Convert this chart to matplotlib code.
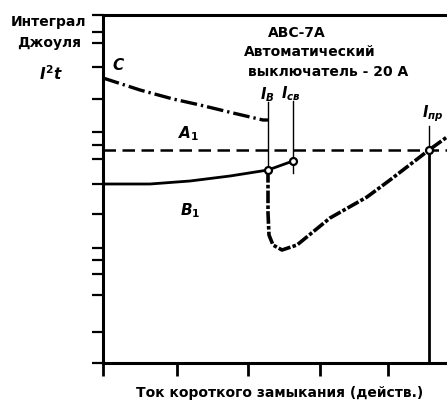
import matplotlib
matplotlib.use("Agg")
import matplotlib.pyplot as plt

plt.rcParams["font.family"] = ["DejaVu Sans"]
plt.rcParams["font.weight"] = "bold"
plt.rcParams["mathtext.fontset"] = "custom"
plt.rcParams["mathtext.rm"] = "DejaVu Sans:bold"
plt.rcParams["mathtext.it"] = "DejaVu Sans:italic:bold"
plt.rcParams["mathtext.bf"] = "DejaVu Sans:bold"

# schematic units (no numeric scale on the original chart)
x_ticks = [0, 74, 145, 217, 285]
y_ticks = [0, 31, 68, 89, 103, 115, 149, 179, 204, 218, 231, 264, 296, 320, 331, 348]

level_a1 = 213  # horizontal dashed line A1

# curve C (dash-dot, falling)
c_x = [0, 37, 70, 97, 130, 160, 165]
c_y = [285, 273, 264, 258, 250, 243, 243]

# curve B1 (solid)
b_x = [0, 47, 87, 127, 165, 190]
b_y = [179, 179, 182, 187, 193, 202]

# let-through curve (from I_B downward, then rising)
l_x = [165, 165, 166, 170, 179, 194, 227, 264, 287, 326, 344]
l_y = [193, 150, 128, 118, 113, 118, 145, 166, 183, 213, 226]

# characteristic currents
i_b = 165
i_sv = 190
i_pr = 326
i_sv_y = 202

fig = plt.figure(figsize=(4.47, 4.01), dpi=100)
ax = fig.add_axes([103 / 447, 38 / 401, 344 / 447, 348 / 401])
ax.set_xlim(0, 344)
ax.set_ylim(0, 348)

for s in ["left", "top", "bottom"]:
    ax.spines[s].set_linewidth(2.2)
ax.spines["right"].set_visible(False)

ax.set_xticks(x_ticks)
ax.set_yticks(y_ticks)
ax.set_xticklabels([])
ax.set_yticklabels([])
ax.tick_params(axis="x", direction="out", length=9.5, width=2.0)
ax.tick_params(axis="y", direction="out", length=8, width=1.6)

# A1 dashed level
ax.plot([0, 344], [level_a1, level_a1], color="black", lw=1.8,
        linestyle=(0, (5.0, 2.6)))

# C curve
ax.plot(c_x, c_y, color="black", lw=2.4, linestyle=(0, (5.0, 1.2, 0.7, 1.2)),
        solid_capstyle="butt")

# B1 curve
ax.plot(b_x, b_y, color="black", lw=2.0)

# let-through curve
ax.plot(l_x, l_y, color="black", lw=2.6, linestyle=(0, (3.5, 0.6, 1.0, 0.6)))

# vertical markers
ax.plot([i_b, i_b], [193, 261], color="black", lw=1.0)
ax.plot([i_sv, i_sv], [190, 262], color="black", lw=1.0)
ax.plot([i_pr, i_pr], [213, 237], color="black", lw=1.0)
ax.plot([i_pr, i_pr], [0, 213], color="black", lw=2.0)

# points
ax.plot([i_b, i_sv, i_pr], [193, i_sv_y, level_a1], "o", ms=5.0,
        mfc="white", mec="black", mew=1.6, zorder=5)

# labels
ax.text(16, 298, "$C$", fontsize=11, ha="center", va="center")
ax.text(86, 229, "$A_1$", fontsize=11, ha="center", va="center")
ax.text(87, 152, "$B_1$", fontsize=11, ha="center", va="center")
ax.text(i_b - 1, 259, "$I_{В}$", fontsize=10.5, ha="center", va="bottom")
ax.text(i_sv - 2, 260, "$I_{св}$", fontsize=10.5, ha="center", va="bottom")
ax.text(i_pr + 4, 239, "$I_{пр}$", fontsize=10.5, ha="center", va="bottom")

ax.text(194, 330, "АВС-7А", fontsize=10, ha="center", va="center", clip_on=False)
ax.text(207, 311, "Автоматический", fontsize=10, ha="center", va="center", clip_on=False)
ax.text(225, 291, "выключатель - 20 А", fontsize=10, ha="center", va="center", clip_on=False)

ax.text(-54, 341, "Интеграл", fontsize=10, ha="center", va="center", clip_on=False)
ax.text(-54, 320, "Джоуля", fontsize=10, ha="center", va="center", clip_on=False)
ax.text(-52, 289, "$I^2t$", fontsize=11, ha="center", va="center", clip_on=False)

ax.text(177, -30, "Ток короткого замыкания (действ.)", fontsize=10,
        ha="center", va="center", clip_on=False)

fig.savefig("out.png", dpi=100)
